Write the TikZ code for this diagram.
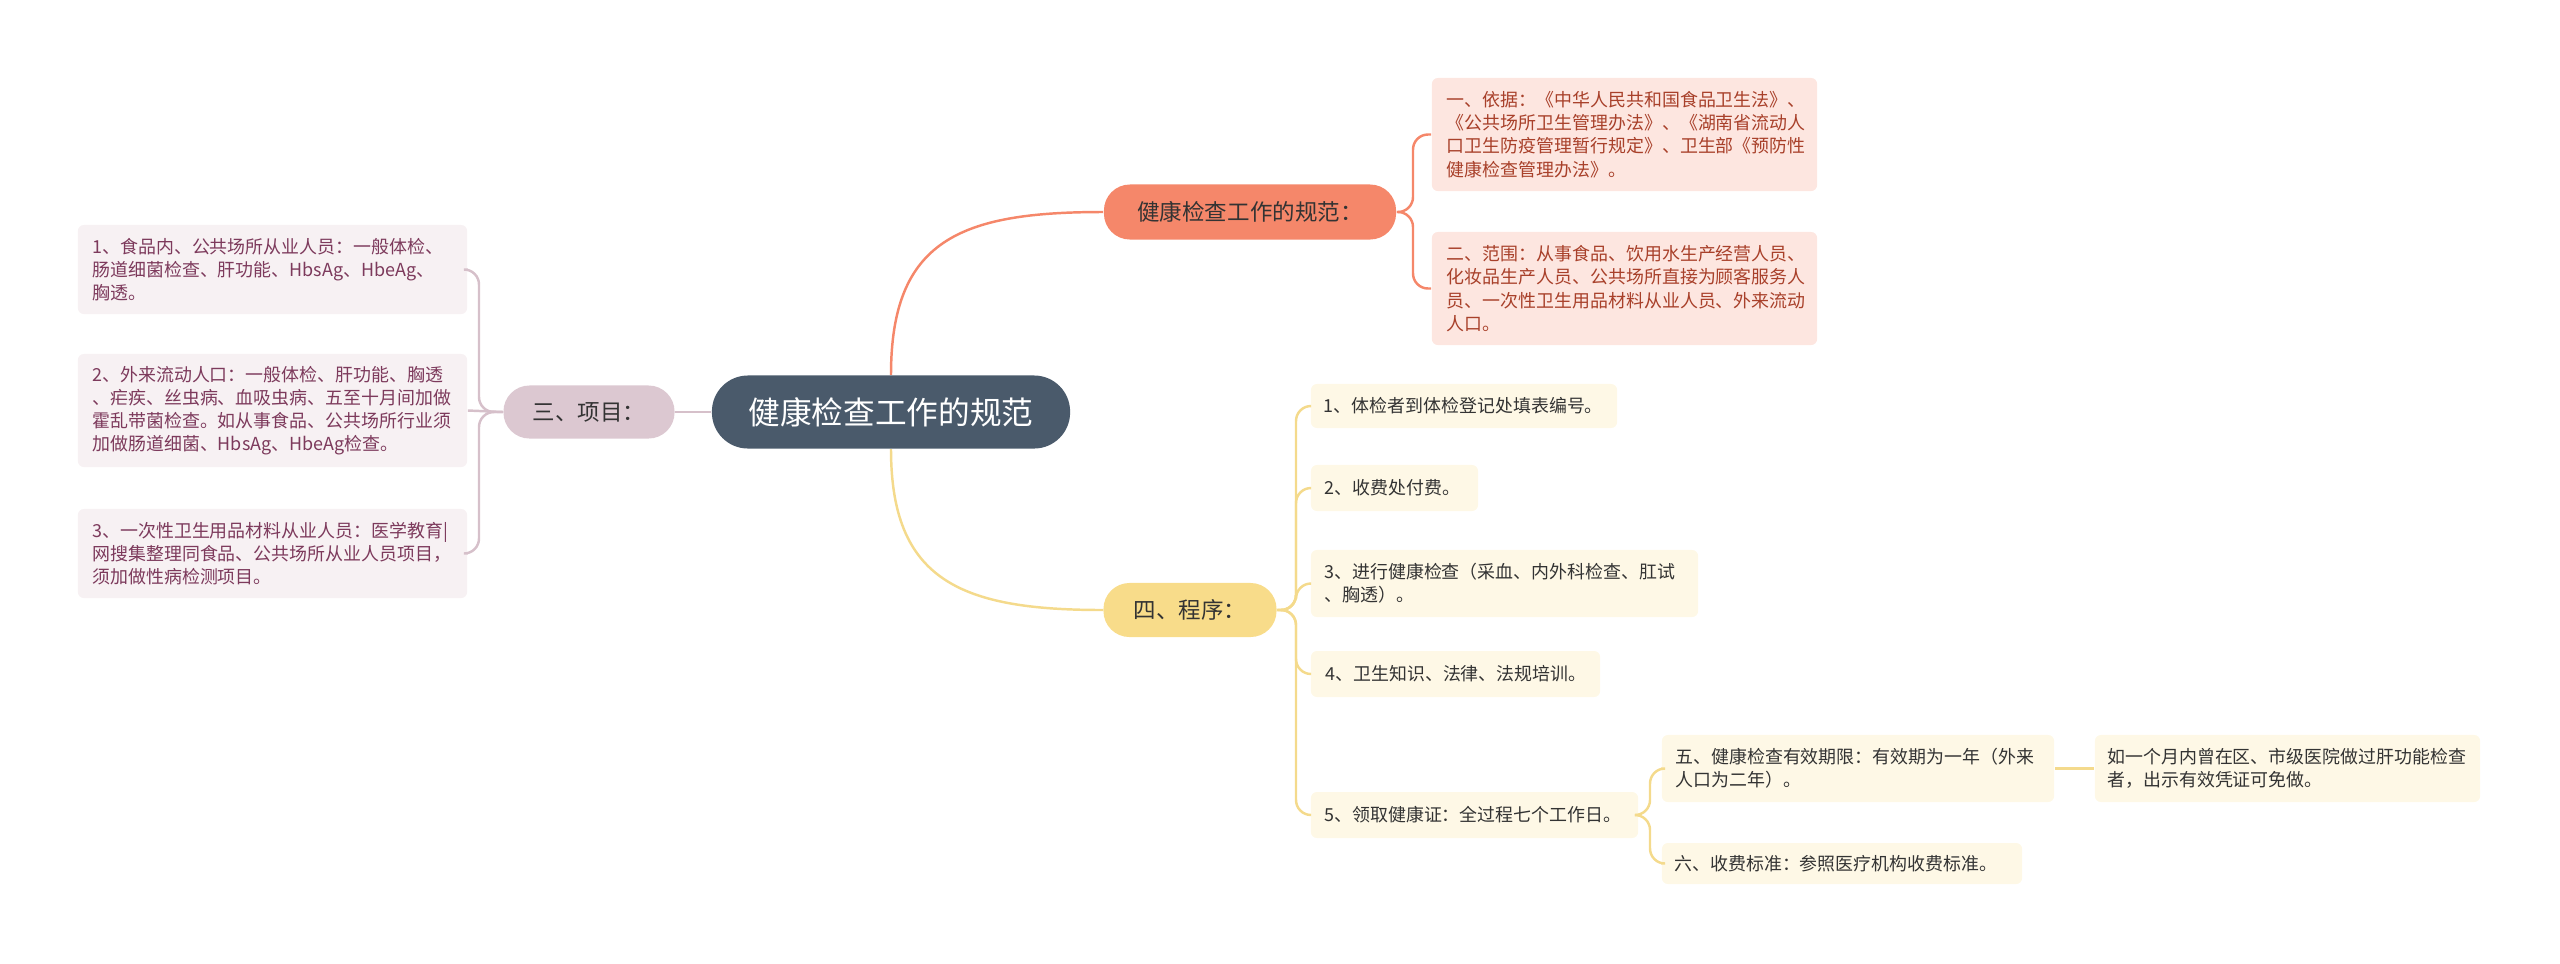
\documentclass[tikz,border=0pt]{standalone}
\usepackage{fontspec}
\setmainfont{Noto Sans CJK SC}
\begin{document}
\begin{tikzpicture}[x=0.01cm,y=-0.01cm,
  lf/.style={font=\fontsize{5.1pt}{6.6pt}\selectfont, rounded corners=0.06cm, inner sep=0pt, align=left},
  br/.style={font=\fontsize{6.4pt}{8pt}\selectfont, rounded corners=0.26cm, inner sep=0pt, text=black!80},
  ln/.style={line width=0.7pt, rounded corners=0.15cm}]
\useasboundingbox (0,0) rectangle (2560,963);
\definecolor{cen}{HTML}{4A5A6B}
\definecolor{oran}{HTML}{F5876A}\definecolor{oranl}{HTML}{FDE6E0}\definecolor{orant}{HTML}{A8402A}
\definecolor{mauv}{HTML}{DCC8D1}\definecolor{mauvl}{HTML}{F7F1F3}\definecolor{mauvt}{HTML}{7D3A5C}\definecolor{mauvline}{HTML}{D6C0CA}
\definecolor{yel}{HTML}{F8DC8A}\definecolor{yell}{HTML}{FEF8E6}\definecolor{yelline}{HTML}{F4DA8C}
\node[fill=cen, text=white, rounded corners=0.36cm, minimum width=3.58cm, minimum height=0.73cm, font=\fontsize{9pt}{10pt}\selectfont] (c) at (891,412) {健康检查工作的规范};
% branch 1
\node[br, fill=oran, minimum width=2.92cm, minimum height=0.55cm] (b1) at (1250,212) {健康检查工作的规范：};
\node[lf, fill=oranl, text=orant, minimum width=3.85cm, minimum height=1.13cm, text width=3.55cm] (l1a) at (1624.5,134.5) {一、依据：《中华人民共和国食品卫生法》、\\《公共场所卫生管理办法》、《湖南省流动人\\口卫生防疫管理暂行规定》、卫生部《预防性\\健康检查管理办法》。};
\node[lf, fill=oranl, text=orant, minimum width=3.85cm, minimum height=1.13cm, text width=3.55cm] (l1b) at (1624.5,288.5) {二、范围：从事食品、饮用水生产经营人员、\\化妆品生产人员、公共场所直接为顾客服务人\\员、一次性卫生用品材料从业人员、外来流动\\人口。};
\draw[ln, draw=oran] (c.north) .. controls (891,240) and (960,212) .. (b1.west);
\draw[ln, draw=oran] (b1.east) -- (1413,212) -- (1413,134.5) -- (l1a.west);
\draw[ln, draw=oran] (b1.east) -- (1413,212) -- (1413,288.5) -- (l1b.west);
% branch 3
\node[br, fill=mauv, minimum width=1.71cm, minimum height=0.53cm] (b3) at (589,412) {三、项目：};
\node[lf, fill=mauvl, text=mauvt, minimum width=3.89cm, minimum height=0.89cm, text width=3.6cm] (l3a) at (272.5,269.5) {1、食品内、公共场所从业人员：一般体检、\\肠道细菌检查、肝功能、HbsAg、HbeAg、\\胸透。};
\node[lf, fill=mauvl, text=mauvt, minimum width=3.89cm, minimum height=1.13cm, text width=3.6cm] (l3b) at (272.5,410.5) {2、外来流动人口：一般体检、肝功能、胸透\\、疟疾、丝虫病、血吸虫病、五至十月间加做\\霍乱带菌检查。如从事食品、公共场所行业须\\加做肠道细菌、HbsAg、HbeAg检查。};
\node[lf, fill=mauvl, text=mauvt, minimum width=3.89cm, minimum height=0.89cm, text width=3.6cm] (l3c) at (272.5,553.5) {3、一次性卫生用品材料从业人员：医学教育|\\网搜集整理同食品、公共场所从业人员项目，\\须加做性病检测项目。};
\draw[ln, draw=mauvline] (c.west) -- (b3.east);
\draw[ln, draw=mauvline] (b3.west) -- (479,412) -- (479,269.5) -- (l3a.east);
\draw[ln, draw=mauvline] (b3.west) -- (l3b.east);
\draw[ln, draw=mauvline] (b3.west) -- (479,412) -- (479,553.5) -- (l3c.east);
% branch 4
\node[br, fill=yel, minimum width=1.73cm, minimum height=0.54cm] (b4) at (1190,610) {四、程序：};
\draw[ln, draw=yelline] (c.south) .. controls (891,580) and (960,610) .. (b4.west);
\node[lf, fill=yell, text=black!80, minimum width=3.06cm, minimum height=0.44cm, text width=2.8cm] (p1) at (1464,406) {1、体检者到体检登记处填表编号。};
\node[lf, fill=yell, text=black!80, minimum width=1.67cm, minimum height=0.46cm, text width=1.4cm] (p2) at (1394.5,488) {2、收费处付费。};
\node[lf, fill=yell, text=black!80, minimum width=3.87cm, minimum height=0.67cm, text width=3.6cm] (p3) at (1504.5,583.5) {3、进行健康检查（采血、内外科检查、肛试\\、胸透）。};
\node[lf, fill=yell, text=black!80, minimum width=2.89cm, minimum height=0.46cm, text width=2.6cm] (p4) at (1455.5,674) {4、卫生知识、法律、法规培训。};
\node[lf, fill=yell, text=black!80, minimum width=3.27cm, minimum height=0.46cm, text width=3.0cm] (p5) at (1474.5,815) {5、领取健康证：全过程七个工作日。};
\foreach \n/\yy in {p1/406,p2/488,p3/583.5,p4/674,p5/815}
  \draw[ln, draw=yelline] (b4.east) -- (1296,610) -- (1296,\yy) -- (\n.west);
\node[lf, fill=yell, text=black!80, minimum width=3.92cm, minimum height=0.67cm, text width=3.65cm] (q5) at (1858,768.5) {五、健康检查有效期限：有效期为一年（外来\\人口为二年）。};
\node[lf, fill=yell, text=black!80, minimum width=3.60cm, minimum height=0.41cm, text width=3.35cm] (q6) at (1842,863.5) {六、收费标准：参照医疗机构收费标准。};
\node[lf, fill=yell, text=black!80, minimum width=3.85cm, minimum height=0.67cm, text width=3.6cm] (r) at (2287.5,768.5) {如一个月内曾在区、市级医院做过肝功能检查\\者，出示有效凭证可免做。};
\draw[ln, draw=yelline] (p5.east) -- (1650,815) -- (1650,768.5) -- (q5.west);
\draw[ln, draw=yelline] (p5.east) -- (1650,815) -- (1650,863.5) -- (q6.west);
\draw[ln, draw=yelline] (q5.east) -- (r.west);
\end{tikzpicture}
\end{document}
